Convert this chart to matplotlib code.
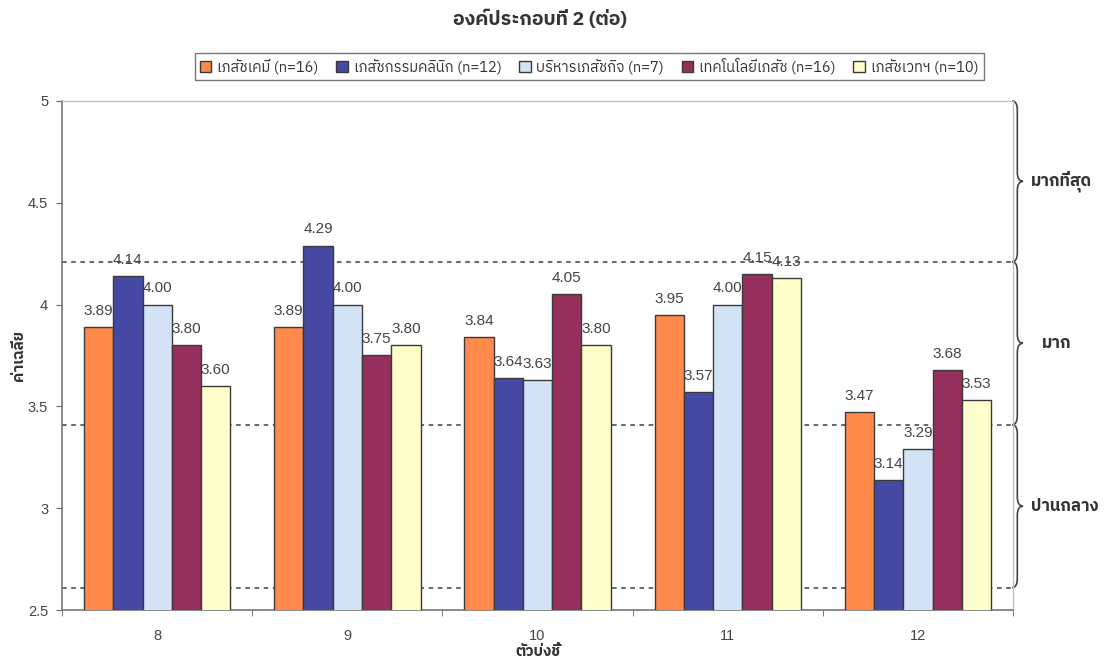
import matplotlib
matplotlib.use("Agg")
import matplotlib.pyplot as plt
import numpy as np
from matplotlib import font_manager
from matplotlib.ft2font import FT2Font
from matplotlib.path import Path
from matplotlib.patches import PathPatch
import matplotlib.transforms as mtransforms

# --- data -------------------------------------------------------------
categories = ["8", "9", "10", "11", "12"]
series_names = [
    "เภสัชเคมี (n=16)",
    "เภสัชกรรมคลินิก (n=12)",
    "บริหารเภสัชกิจ (n=7)",
    "เทคโนโลยีเภสัช (n=16)",
    "เภสัชเวทฯ (n=10)",
]
chem = [3.89, 3.89, 3.84, 3.95, 3.47]
clinical = [4.14, 4.29, 3.64, 3.57, 3.14]
admin = [4.00, 4.00, 3.63, 4.00, 3.29]
tech = [3.80, 3.75, 4.05, 4.15, 3.68]
pharmacog = [3.60, 3.80, 3.80, 4.13, 3.53]
series_values = [chem, clinical, admin, tech, pharmacog]

level_cuts = [4.21, 3.41, 2.61]
level_names = ["มากที่สุด", "มาก", "ปานกลาง"]
level_ranges = [(5.0, 4.21), (4.21, 3.41), (3.41, 2.61)]

title = "องค์ประกอบที่ 2 (ต่อ)"
xlabel = "ตัวบ่งชี้"
ylabel = "ค่าเฉลี่ย"

colors = ["#FF8A4C", "#4549A3", "#D3E2F5", "#952F5C", "#FFFFCC"]


# --- font with Thai coverage --------------------------------------------
def find_thai_font():
    best = None
    for f in font_manager.fontManager.ttflist:
        try:
            cmap = FT2Font(f.fname).get_charmap()
        except Exception:
            continue
        if ord("ก") in cmap and ord("ี") in cmap:
            if best is None:
                best = f.name
            if "Thai" in f.name or "Tahoma" in f.name:
                return f.name
    return best


thai = find_thai_font()
families = ([thai] if thai else []) + ["DejaVu Sans"]
plt.rcParams["font.family"] = families
num_font = ["Liberation Sans", "DejaVu Sans"]

fig = plt.figure(figsize=(11.2, 6.64), dpi=100)
ax = fig.add_axes([0.0554, 0.0813, 0.8491, 0.7667])

n_series = len(series_values)
x = np.arange(len(categories))
bar_w = 0.154
offsets = (np.arange(n_series) - (n_series - 1) / 2) * bar_w

for i, (vals, col) in enumerate(zip(series_values, colors)):
    bars = ax.bar(x + offsets[i], vals, width=bar_w, color=col,
                  edgecolor="#3a3a3a", linewidth=1.0, label=series_names[i],
                  zorder=3)
    for b, v in zip(bars, vals):
        ax.text(b.get_x() + b.get_width() / 2, v + 0.045, f"{v:.2f}",
                ha="center", va="bottom", fontsize=11, color="#444444",
                family=num_font, zorder=4)

for y in level_cuts:
    ax.axhline(y, color="#3c3c55", linestyle=(0, (3, 3)), linewidth=1.1,
               zorder=2)

ax.set_xlim(-0.5, len(categories) - 0.5)
ax.set_ylim(2.5, 5.0)
ax.set_yticks([2.5, 3, 3.5, 4, 4.5, 5])
ax.set_yticklabels(["2.5", "3", "3.5", "4", "4.5", "5"], family=num_font)
ax.set_xticks(x)
ax.set_xticklabels(categories, family=num_font)
ax.set_xticks(np.arange(len(categories) + 1) - 0.5, minor=True)
ax.tick_params(axis="x", which="major", length=0, pad=14, labelsize=10.5,
               labelcolor="#444444")
ax.tick_params(axis="x", which="minor", length=4, direction="out",
               color="#666666")
ax.tick_params(axis="y", length=4, direction="out", color="#666666",
               labelsize=10.5, labelcolor="#444444", pad=6)

for side in ("left", "bottom"):
    ax.spines[side].set_color("#777777")
    ax.spines[side].set_linewidth(1.2)
for side in ("top", "right"):
    ax.spines[side].set_color("#D9AFCB")
    ax.spines[side].set_linewidth(0.9)

ax.set_xlabel(xlabel, fontsize=11, fontweight="bold", color="#333333",
              labelpad=1)
fig.text(0.017, 0.465, ylabel, rotation=90, ha="center", va="center",
         fontsize=11, fontweight="bold", color="#333333")

fig.suptitle(title, x=0.482, y=0.985, fontsize=14, fontweight="bold",
             color="#333333")

leg = fig.legend(loc="center", bbox_to_anchor=(0.526, 0.9), ncol=5,
                 frameon=True, fancybox=False, fontsize=10.5,
                 handlelength=0.8, handleheight=0.8, handletextpad=0.4,
                 columnspacing=1.2, borderpad=0.35, edgecolor="#555555")
leg.get_frame().set_linewidth(1.0)
for t in leg.get_texts():
    t.set_color("#333333")

# curly braces marking the rating bands, to the right of the plot area
trans = mtransforms.blended_transform_factory(ax.transAxes, ax.transData)
x0, x1, x2 = 0.999, 1.0045, 1.0105
r = 0.045
for (yt, yb), name in zip(level_ranges, level_names):
    ym = (yt + yb) / 2
    verts = [
        (x0, yt), (x1, yt), (x1, yt - r),
        (x1, ym + r),
        (x1, ym), (x2, ym),
        (x1, ym), (x1, ym - r),
        (x1, yb + r),
        (x1, yb), (x0, yb),
    ]
    codes = [
        Path.MOVETO, Path.CURVE3, Path.CURVE3,
        Path.LINETO,
        Path.CURVE3, Path.CURVE3,
        Path.CURVE3, Path.CURVE3,
        Path.LINETO,
        Path.CURVE3, Path.CURVE3,
    ]
    patch = PathPatch(Path(verts, codes), facecolor="none",
                      edgecolor="#444444", linewidth=1.2,
                      transform=trans, clip_on=False)
    ax.add_patch(patch)
    ax.text(1.019 if len(name) > 4 else 1.030, ym, name, transform=trans,
            ha="left", va="center", fontsize=12, fontweight="bold",
            color="#333333", clip_on=False)

fig.savefig("out.png", dpi=100, facecolor="white")
